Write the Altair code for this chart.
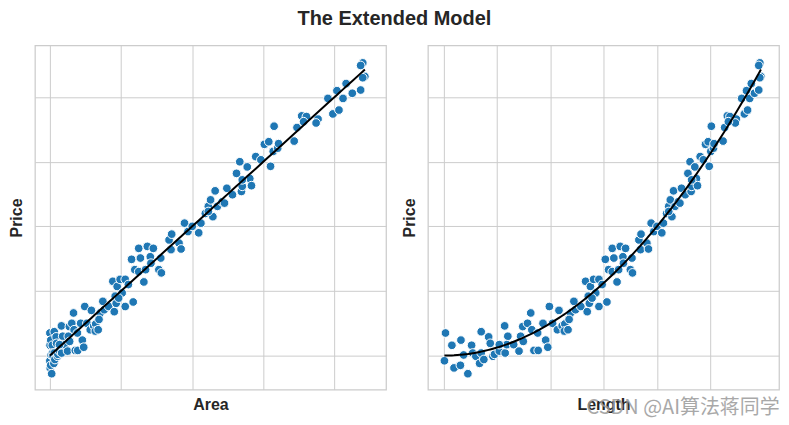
import altair as alt
import numpy as np
import pandas as pd

# Data (Length, Price); Area = Length^2
length = [0.03, 0.01, 0.15, 0.19, 0.31, 0.32, 0.37, 0.45, 0.52, 0.54,
          0.60, 0.67, 0.70, 0.70, 0.75, 0.84, 0.87, 0.92, 0.95, 1.04,
          1.14, 1.15, 1.20, 1.18, 1.31, 1.41, 1.44, 1.48, 1.49, 1.57,
          1.63, 1.65, 1.69, 1.77, 1.86, 1.91, 1.95, 1.98, 2.04, 2.13,
          2.16, 2.22, 2.27, 2.26, 2.33, 2.38, 2.44, 2.47, 2.57, 2.66,
          2.69, 2.71, 2.75, 2.81, 2.85, 2.91, 2.91, 2.97, 3.03, 3.06,
          3.09, 3.16, 3.16, 3.19, 3.25, 3.31, 3.36, 3.37, 3.41, 3.50,
          3.53, 3.54, 3.66, 3.69, 3.70, 3.81, 3.84, 3.89, 3.94, 4.00,
          4.09, 4.12, 4.18, 4.22, 4.25, 4.28, 4.31, 4.34, 4.40, 4.43,
          4.46, 4.53, 4.58, 4.62, 4.64, 4.65, 4.71, 4.74, 4.76, 4.81,
          4.87, 4.91, 4.96, 5.01, 4.98, 5.02, 5.06, 5.07, 5.24, 5.27,
          5.32, 5.37, 5.49, 5.47, 5.59, 5.64, 5.70, 5.68, 5.74, 5.77,
          5.83, 5.91, 5.93, 5.91, 5.95, 5.93,
          2.73, 3.28, 2.35, 1.76, 1.04, 2.78, 4.22, 4.65, 5.34]
price = [3.5, -0.8, 1.6, -1.9, -1.5, 2.4, 0.1, -2.8, 1.6, 0.4,
         -0.1, -1.2, 3.7, 0.4, -0.6, 2.9, 1.9, -0.1, 0.2, 0.7,
         4.6, 0.4, 3.0, 1.7, 1.7, 0.7, 3.0, 4.5, 2.2, 5.0,
         6.6, 4.0, 0.8, 0.8, 5.0, 2.4, 1.3, 7.6, 5.0, 4.0,
         7.0, 4.6, 4.9, 3.8, 4.0, 6.6, 8.4, 7.1, 7.6, 11.5,
         6.8, 9.2, 10.7, 11.8, 9.7, 11.8, 7.6, 11.0, 14.9, 8.3,
         13.3, 16.6, 13.0, 15.1, 11.4, 16.9, 15.3, 14.3, 16.6, 13.3,
         15.1, 12.8, 17.9, 16.4, 18.8, 17.4, 16.5, 20.5, 19.2, 20.0,
         19.0, 20.5, 22.0, 23.1, 24.1, 21.5, 25.5, 23.1, 23.8, 23.6,
         25.9, 24.9, 28.2, 30.0, 25.4, 26.2, 29.2, 27.4, 26.3, 30.8,
         30.3, 32.7, 33.1, 31.6, 29.3, 35.5, 32.1, 32.8, 33.2, 35.3,
         37.1, 37.0, 36.6, 36.0, 39.8, 37.4, 38.0, 41.0, 39.8, 42.1,
         40.6, 41.1, 45.3, 44.9, 43.2, 43.0,
         8.1, 13.3, 5.6, 3.5, 1.7, 8.9, 22.3, 27.2, 36.2]

area = [round(v * v, 4) for v in length]

area_ticks = [0, 8, 16, 24, 32]
length_ticks = [0, 1, 2, 3, 4, 5]
price_ticks = [0, 10, 20, 30, 40]

df = pd.DataFrame({"Length": length, "Area": area, "Price": price})

# Linear regression of Price on Area (the extended model)
b1, b0 = np.polyfit(df["Area"], df["Price"], 1)
fit = df[["Length", "Area"]].sort_values("Length").copy()
fit["Pred"] = b0 + b1 * fit["Area"]

BLUE = "#1f77b4"
W, H = 352, 345

y_enc = alt.Y("Price:Q",
              scale=alt.Scale(domain=[-5.25, 48.0], nice=False, zero=False),
              axis=alt.Axis(values=price_ticks, labels=False, ticks=False,
                            domain=False, title="Price"))


def panel(xfield, domain, ticks, title, extra=None):
    xenc = alt.X(f"{xfield}:Q",
                 scale=alt.Scale(domain=domain, nice=False, zero=False),
                 axis=alt.Axis(values=ticks, labels=False, ticks=False,
                               domain=False, title=title))
    pts = alt.Chart(df).mark_circle(
        size=76, color=BLUE, opacity=1, stroke="white", strokeWidth=1
    ).encode(x=xenc, y=y_enc)
    line = alt.Chart(fit).mark_line(color="black", strokeWidth=2).encode(
        x=alt.X(f"{xfield}:Q"), y=alt.Y("Pred:Q"))
    layers = [pts, line]
    if extra is not None:
        layers.append(extra)
    return alt.layer(*layers).properties(width=W, height=H)


wm = alt.Chart(pd.DataFrame({"t": ["CSDN @AI算法蒋同学"]})).mark_text(
    align="left", baseline="middle", fontSize=20, font="Noto Sans CJK SC",
    color="#9a9a9a", opacity=0.85, clip=False
).encode(text="t:N", x=alt.value(159), y=alt.value(364))

left = panel("Area", [-1.68, 37.78], area_ticks, "Area")
right = panel("Length", [-0.30, 6.29], length_ticks, "Length", extra=wm)

chart = alt.hconcat(left, right, spacing=14).properties(
    title=alt.TitleParams("The Extended Model", fontSize=20, fontWeight="bold",
                          font="Liberation Sans", anchor="middle",
                          color="#262626", offset=16),
    padding={"left": 0, "top": 0, "right": 0, "bottom": 0},
    background="white",
).configure_view(
    stroke="#cccccc", strokeWidth=1.25
).configure_axis(
    grid=True, gridColor="#cccccc", gridWidth=1,
    titleFont="Liberation Sans", titleFontSize=16, titleFontWeight="bold",
    titleColor="#262626"
).configure_axisX(titlePadding=7).configure_axisY(titlePadding=10)

chart.save("out.html", embed_options={"renderer": "svg", "actions": False})
